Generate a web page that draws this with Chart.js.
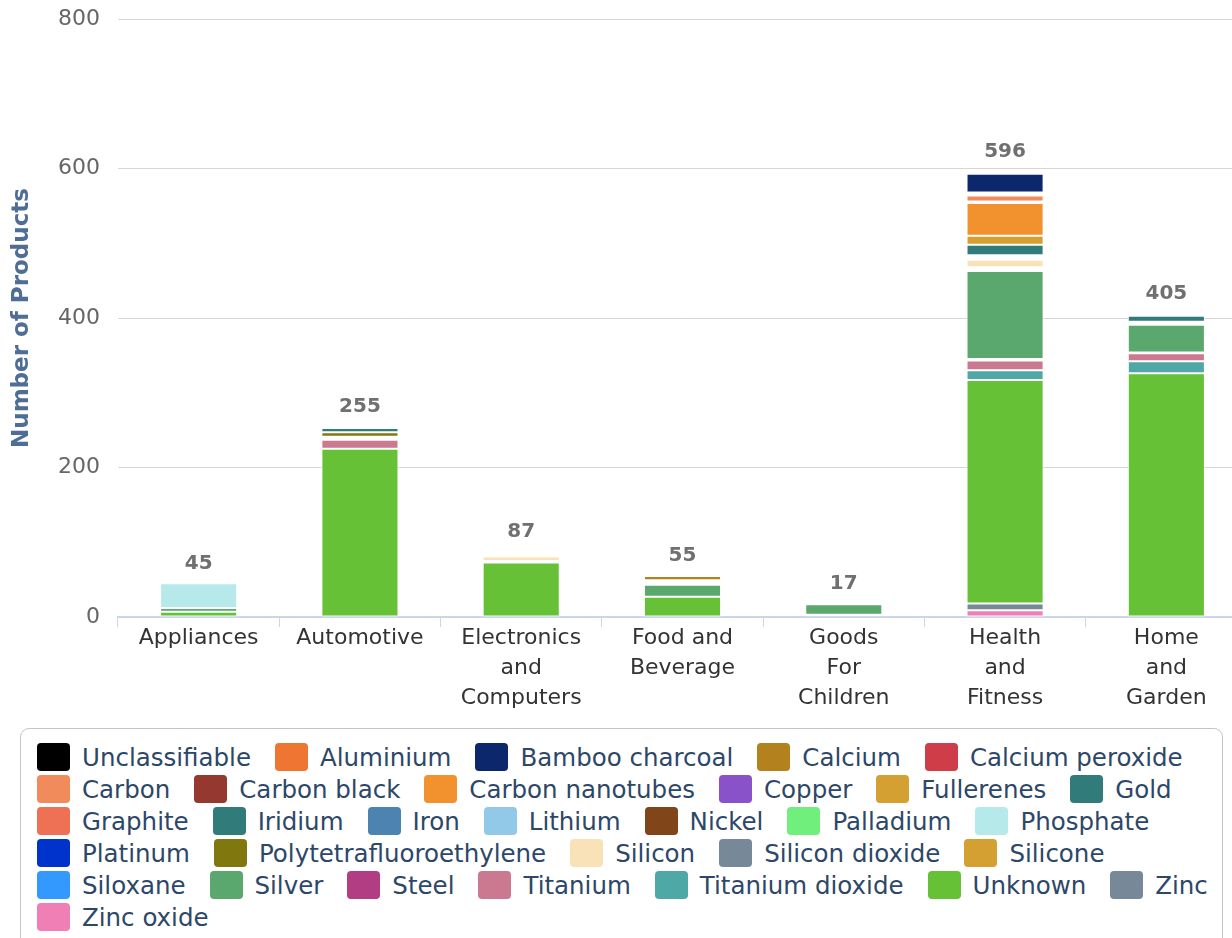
<!DOCTYPE html>
<html>
<head>
<meta charset="utf-8">
<title>Number of Products by Category and Nanomaterial</title>
<script src="https://cdn.jsdelivr.net/npm/chart.js@4.4.1/dist/chart.umd.min.js"></script>
<style>
  html, body { margin: 0; padding: 0; background: #fff; overflow: hidden; width: 1232px; height: 938px; }
  #wrap { position: absolute; left: 0; top: 0; width: 1247px; height: 720px; }
  #legend {
    position: absolute; left: 20px; top: 728px; width: 1203px; height: 232px;
    box-sizing: border-box; border: 1.5px solid #c4c4c4; border-radius: 9px;
    padding: 12px 0 0 16px;
    display: flex; flex-wrap: wrap; align-content: flex-start; column-gap: 24px;
    font-family: 'DejaVu Sans', sans-serif; font-size: 24.5px; color: #2d4768;
  }
  .item { display: flex; align-items: center; height: 32px; white-space: nowrap; }
  .sw { width: 33px; height: 28px; border-radius: 4px; margin-right: 12px; flex: none; }
</style>
</head>
<body>
<div id="wrap"><canvas id="c" width="1247" height="720"></canvas></div>
<div id="legend"></div>
<script>
// Product categories (wrapped the way the axis shows them)
const categories = ['Appliances', 'Automotive', 'Electronics and Computers', 'Food and Beverage',
                    'Goods For Children', 'Health and Fitness', 'Home and Garden'];
const categoryLines = [['Appliances'], ['Automotive'], ['Electronics', 'and', 'Computers'],
                       ['Food and', 'Beverage'], ['Goods', 'For', 'Children'],
                       ['Health', 'and', 'Fitness'], ['Home', 'and', 'Garden']];

// Number of products per nanomaterial, one value per category
const unclassifiable  = [0,   0,  0,  0,  0,   1,   0];
const aluminium       = [0,   2,  0,  0,  0,   2,   2];
const bambooCharcoal  = [0,   0,  0,  0,  0,  25,   0];
const calcium         = [0,   0,  0,  6,  0,   2,   0];
const calciumPeroxide = [0,   0,  0,  0,  0,   2,   0];
const carbon          = [0,   0,  0,  0,  0,   8,   0];
const carbonBlack     = [0,   0,  2,  0,  0,   2,   0];
const carbonNanotubes = [0,   0,  0,  0,  0,  44,   0];
const copper          = [0,   0,  2,  0,  0,   0,   0];
const fullerenes      = [0,   0,  0,  0,  0,  12,   0];
const gold            = [0,   0,  0,  0,  0,  14,   8];
const graphite        = [0,   0,  0,  0,  0,   0,   0];
const iridium         = [0,   6,  0,  0,  0,   0,   0];
const iron            = [0,   0,  2,  2,  0,   0,   0];
const lithium         = [0,   0,  0,  0,  0,   0,   0];
const nickel          = [0,   0,  0,  2,  0,   0,   0];
const palladium       = [0,   0,  0,  0,  0,   2,   0];
const phosphate       = [33,  0,  0,  0,  0,   0,   0];
const platinum        = [0,   0,  0,  0,  0,   2,   0];
const ptfe            = [0,   6,  0,  0,  0,   2,   0];
const silicon         = [0,   2,  6,  0,  0,  10,   0];
const siliconDioxide  = [0,   0,  2,  0,  0,   1,   2];
const silicone        = [0,   0,  0,  2,  0,   2,   0];
const siloxane        = [0,   0,  0,  0,  0,   2,   2];
const silver          = [5,   0,  0, 16, 14, 118,  37];
const steel           = [0,   2,  0,  0,  2,   2,   1];
const titanium        = [0,  12,  0,  0,  0,  13,  11];
const titaniumDioxide = [0,   0,  0,  0,  0,  13,  16];
const unknown         = [7, 225, 73, 27,  0, 299, 326];
const zinc            = [0,   0,  0,  0,  0,   9,   0];
const zincOxide       = [0,   0,  0,  0,  1,   9,   0];

// Y axis ticks
const yTicks = [0, 200, 400, 600, 800];

// Series in legend order: [label, values, colour]
const series = [
  ['Unclassifiable', unclassifiable, '#000000'],
  ['Aluminium', aluminium, '#ee7632'],
  ['Bamboo charcoal', bambooCharcoal, '#0c276c'],
  ['Calcium', calcium, '#b3821f'],
  ['Calcium peroxide', calciumPeroxide, '#cf3e48'],
  ['Carbon', carbon, '#f28b5b'],
  ['Carbon black', carbonBlack, '#953830'],
  ['Carbon nanotubes', carbonNanotubes, '#f2922e'],
  ['Copper', copper, '#8a52c9'],
  ['Fullerenes', fullerenes, '#d4a032'],
  ['Gold', gold, '#317b7b'],
  ['Graphite', graphite, '#ee7055'],
  ['Iridium', iridium, '#317b7b'],
  ['Iron', iron, '#4d83b0'],
  ['Lithium', lithium, '#92c9e8'],
  ['Nickel', nickel, '#80461a'],
  ['Palladium', palladium, '#70ef7c'],
  ['Phosphate', phosphate, '#b6eaea'],
  ['Platinum', platinum, '#0033cc'],
  ['Polytetrafluoroethylene', ptfe, '#80780f'],
  ['Silicon', silicon, '#fae2b8'],
  ['Silicon dioxide', siliconDioxide, '#778899'],
  ['Silicone', silicone, '#d4a032'],
  ['Siloxane', siloxane, '#3399ff'],
  ['Silver', silver, '#5aa86e'],
  ['Steel', steel, '#b33d82'],
  ['Titanium', titanium, '#cb7891'],
  ['Titanium dioxide', titaniumDioxide, '#4ea9a6'],
  ['Unknown', unknown, '#66c136'],
  ['Zinc', zinc, '#778899'],
  ['Zinc oxide', zincOxide, '#ef7fb5']
];

// Stack totals shown above each column
const totals = categories.map((_, i) => series.reduce((s, d) => s + d[1][i], 0));

// Last legend entry sits at the bottom of each stack
const datasets = series.slice().reverse().map(([label, values, color]) => ({
  label, data: values, backgroundColor: color,
  borderColor: '#ffffff', borderWidth: 1, borderSkipped: false, inflateAmount: 0,
  barPercentage: 0.478, categoryPercentage: 1, stack: 'all'
}));

const stackTotals = {
  id: 'stackTotals',
  afterDatasetsDraw(chart) {
    const { ctx, scales: { x, y } } = chart;
    ctx.save();
    ctx.font = 'bold 20px "DejaVu Sans"';
    ctx.fillStyle = '#707070';
    ctx.textAlign = 'center';
    ctx.textBaseline = 'middle';
    totals.forEach((t, i) => ctx.fillText(String(t), x.getPixelForValue(i), y.getPixelForValue(t) - 20));
    ctx.restore();
  }
};

const font = { family: 'DejaVu Sans', size: 22 };

new Chart(document.getElementById('c'), {
  type: 'bar',
  data: { labels: categoryLines, datasets },
  options: {
    responsive: false,
    animation: false,
    layout: { padding: { top: 19, right: 0, bottom: 0, left: 0 } },
    plugins: { legend: { display: false }, tooltip: { enabled: false } },
    scales: {
      x: {
        stacked: true,
        grid: { display: true, drawOnChartArea: false, drawTicks: true, tickLength: 10, color: '#ccd6eb', offset: true },
        border: { display: true, color: '#ccd6eb', width: 2 },
        ticks: { font: { ...font, lineHeight: 30 / 22 }, color: '#333333', padding: -4, maxRotation: 0, autoSkip: false },
        afterFit: s => { s.height = 103; }
      },
      y: {
        stacked: true,
        min: yTicks[0], max: yTicks[yTicks.length - 1],
        afterBuildTicks: s => { s.ticks = yTicks.map(v => ({ value: v })); },
        ticks: { font, color: '#666666', padding: 18 },
        grid: { color: '#d6d6d6', drawTicks: false },
        border: { display: false },
        title: {
          display: true, text: 'Number of Products', color: '#4f6e96',
          font: { family: 'DejaVu Sans', size: 23, weight: 'bold' },
          padding: { top: 8, bottom: 0 }
        },
        afterFit: s => { s.width = 118; s.paddingTop = 0; s.paddingBottom = 0; }
      }
    }
  },
  plugins: [stackTotals]
});

// Legend box built from the same series list
const legend = document.getElementById('legend');
series.forEach(([label, , color]) => {
  const item = document.createElement('div');
  item.className = 'item';
  const sw = document.createElement('span');
  sw.className = 'sw';
  sw.style.background = color;
  const txt = document.createElement('span');
  txt.textContent = label;
  item.appendChild(sw);
  item.appendChild(txt);
  legend.appendChild(item);
});
</script>
</body>
</html>
